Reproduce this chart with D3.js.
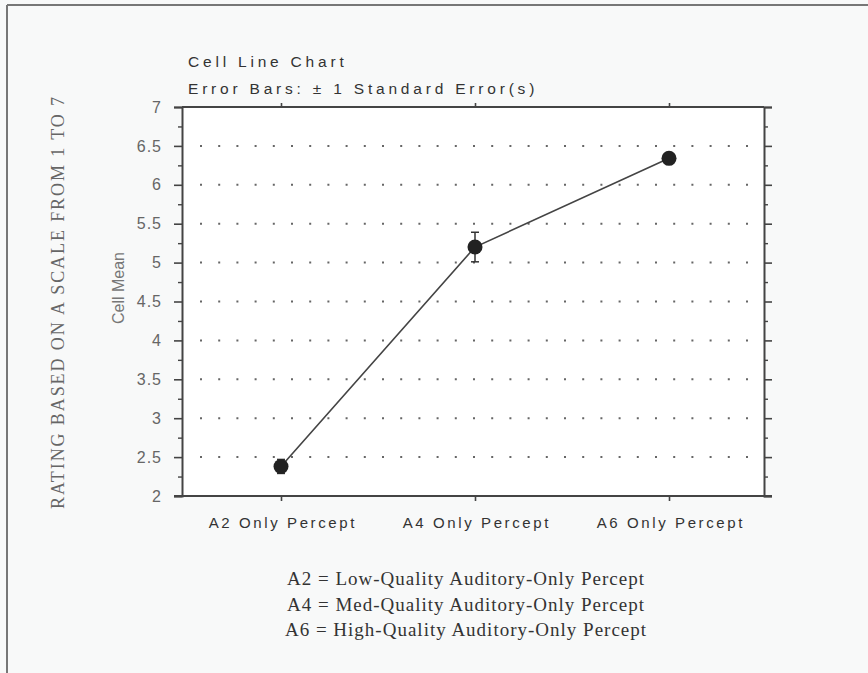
<!DOCTYPE html>
<html><head><meta charset="utf-8">
<script src="https://cdn.jsdelivr.net/npm/d3@7"></script>
<style>
html,body{margin:0;padding:0;background:#f8f9f9;}
svg{display:block;}
</style></head>
<body>
<script>
const categories = ["A2 Only Percept", "A4 Only Percept", "A6 Only Percept"];
const means = [2.38, 5.20, 6.34];
const stdErrors = [0.09, 0.19, 0.06];
const yTicks = [2, 2.5, 3, 3.5, 4, 4.5, 5, 5.5, 6, 6.5, 7];
const gridValues = [2.5, 3, 3.5, 4, 4.5, 5, 5.5, 6, 6.5];
const titleLines = ["Cell Line Chart", "Error Bars: \u00b1 1 Standard Error(s)"];
const yLabel = "Cell Mean";
const outerLabel = "RATING BASED ON A SCALE FROM 1 TO 7";
const noteLines = ["A2 = Low-Quality Auditory-Only Percept", "A4 = Med-Quality Auditory-Only Percept", "A6 = High-Quality Auditory-Only Percept"];

const W = 868, H = 673;
const L = 182, R = 764, T = 107, B = 496;
const sans = "Liberation Sans, Arial, sans-serif";
const serif = "Liberation Serif, Times New Roman, serif";
const svg = d3.select("body").append("svg").attr("width", W).attr("height", H);

svg.append("rect").attr("width", W).attr("height", H).attr("fill", "#f8f9f9");
// scan frame
svg.append("line").attr("x1", 7).attr("x2", W).attr("y1", 5).attr("y2", 5).attr("stroke", "#777").attr("stroke-width", 2);
svg.append("line").attr("x1", 7).attr("x2", 7).attr("y1", 5).attr("y2", H).attr("stroke", "#777").attr("stroke-width", 2);

const x = d3.scalePoint().domain(categories).range([L + 2, R + 2]).padding(0.5);
const y = d3.scaleLinear().domain([2, 7]).range([B, T]);

// plot background
svg.append("rect").attr("x", L).attr("y", T).attr("width", R - L).attr("height", B - T).attr("fill", "#ffffff");

// dotted grid
svg.append("g").selectAll("line").data(gridValues).join("line")
  .attr("x1", L + 18).attr("x2", R - 4)
  .attr("y1", d => y(d)).attr("y2", d => y(d))
  .attr("stroke", "#666").attr("stroke-width", 2)
  .attr("stroke-dasharray", "2,16.2");

const axisColor = "#444";
// left axis
const gl = svg.append("g").attr("transform", `translate(${L},0)`)
  .call(d3.axisLeft(y).tickValues(yTicks).tickSize(8).tickPadding(12).tickFormat(d3.format("")));
gl.select(".domain").attr("stroke", axisColor).attr("stroke-width", 2);
gl.selectAll(".tick line").attr("stroke", axisColor).attr("stroke-width", 1.6);
gl.selectAll(".tick text").attr("fill", "#666").attr("font-family", sans).attr("font-size", 16).attr("letter-spacing", "1px");
const glm = svg.append("g").attr("transform", `translate(${L},0)`)
  .call(d3.axisLeft(y).tickValues(d3.range(2.25, 7, 0.5)).tickSize(4).tickFormat(""));
glm.select(".domain").remove();
glm.selectAll(".tick line").attr("stroke", axisColor).attr("stroke-width", 1.4);

// right axis
const gr = svg.append("g").attr("transform", `translate(${R},0)`)
  .call(d3.axisRight(y).tickValues(yTicks).tickSize(8).tickFormat(""));
gr.select(".domain").attr("stroke", axisColor).attr("stroke-width", 2);
gr.selectAll(".tick line").attr("stroke", axisColor).attr("stroke-width", 1.6);
const grm = svg.append("g").attr("transform", `translate(${R},0)`)
  .call(d3.axisRight(y).tickValues(d3.range(2.25, 7, 0.5)).tickSize(4).tickFormat(""));
grm.select(".domain").remove();
grm.selectAll(".tick line").attr("stroke", axisColor).attr("stroke-width", 1.4);

// bottom axis
const gb = svg.append("g").attr("transform", `translate(0,${B})`)
  .call(d3.axisBottom(x).tickSize(5).tickPadding(16).tickSizeOuter(0));
gb.select(".domain").attr("stroke", axisColor).attr("stroke-width", 2).attr("d", `M${L - 8},0H${R + 8}`);
gb.selectAll(".tick line").attr("stroke", axisColor).attr("stroke-width", 1.6);
gb.selectAll(".tick text").attr("fill", "#333").attr("font-family", sans)
  .attr("font-size", 15).attr("letter-spacing", "2.6px").attr("dx", "1.3px");

// top axis
const gt = svg.append("g").attr("transform", `translate(0,${T})`)
  .call(d3.axisTop(x).tickSize(4).tickFormat("").tickSizeOuter(0));
gt.select(".domain").attr("stroke", axisColor).attr("stroke-width", 2).attr("d", `M${L},0H${R}`);
gt.selectAll(".tick line").attr("stroke", axisColor).attr("stroke-width", 1.6);

// line
const line = d3.line().x((d, i) => x(categories[i])).y(d => y(d));
svg.append("path").datum(means).attr("d", line).attr("fill", "none").attr("stroke", "#444").attr("stroke-width", 1.6);

// error bars
const eb = svg.append("g").selectAll("g").data(means).join("g");
eb.append("line")
  .attr("x1", (d, i) => x(categories[i])).attr("x2", (d, i) => x(categories[i]))
  .attr("y1", (d, i) => y(d + stdErrors[i])).attr("y2", (d, i) => y(d - stdErrors[i]))
  .attr("stroke", "#333").attr("stroke-width", 1.5);
[1, -1].forEach(s => {
  eb.append("line")
    .attr("x1", (d, i) => x(categories[i]) - 4).attr("x2", (d, i) => x(categories[i]) + 4)
    .attr("y1", (d, i) => y(d + s * stdErrors[i])).attr("y2", (d, i) => y(d + s * stdErrors[i]))
    .attr("stroke", "#333").attr("stroke-width", 1.5);
});

// points
svg.append("g").selectAll("circle").data(means).join("circle")
  .attr("cx", (d, i) => x(categories[i])).attr("cy", d => y(d))
  .attr("r", 7.5).attr("fill", "#222");

// titles
svg.append("g").selectAll("text").data(titleLines).join("text")
  .attr("x", 188).attr("y", (d, i) => 67 + i * 27)
  .attr("font-family", sans).attr("font-size", 15.5)
  .attr("letter-spacing", "3.8px").attr("fill", "#333").text(d => d);

// y label
svg.append("text").attr("transform", `translate(124,288) rotate(-90)`)
  .attr("text-anchor", "middle").attr("font-family", sans)
  .attr("font-size", 16).attr("fill", "#777").text(yLabel);

// outer label
svg.append("text").attr("transform", `translate(64,302) rotate(-90)`)
  .attr("text-anchor", "middle").attr("font-family", serif)
  .attr("font-size", 18).attr("letter-spacing", "1.9px").attr("fill", "#666").text(outerLabel);

// notes
svg.append("g").selectAll("text").data(noteLines).join("text")
  .attr("x", 466).attr("y", (d, i) => 585 + i * 25.5)
  .attr("text-anchor", "middle").attr("font-family", serif)
  .attr("font-size", 19).attr("letter-spacing", "1px").attr("fill", "#333").text(d => d);
</script>
</body></html>
